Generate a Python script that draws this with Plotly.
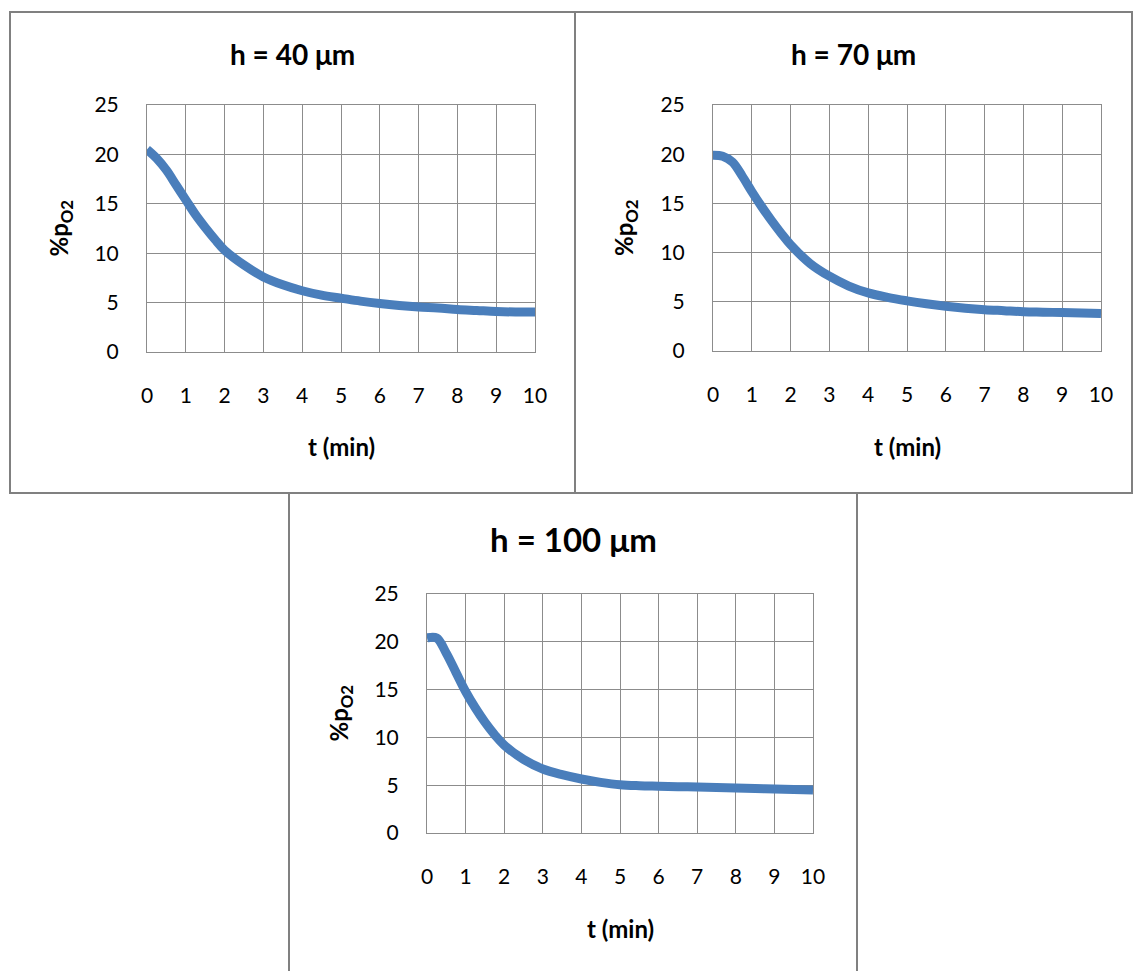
import plotly.graph_objects as go

FW, FH = 1133, 971

t_min = [0, 0.25, 0.5, 0.75, 1, 1.25, 1.5, 1.75, 2, 2.5, 3, 3.5, 4, 4.5, 5,
         5.5, 6, 6.5, 7, 7.5, 8, 8.5, 9, 9.5, 10]
po2_40 = [20.5, 19.6, 18.4, 16.9, 15.4, 13.9, 12.6, 11.4, 10.3, 8.8, 7.6, 6.8, 6.2, 5.75, 5.45,
          5.15, 4.9, 4.7, 4.55, 4.45, 4.3, 4.2, 4.1, 4.05, 4.05]
po2_70 = [19.9, 19.8, 19.2, 17.8, 16.2, 14.7, 13.3, 12.0, 10.8, 8.9, 7.6, 6.6, 5.9, 5.45, 5.1,
          4.8, 4.55, 4.35, 4.2, 4.1, 4.0, 3.95, 3.9, 3.85, 3.8]
po2_100 = [20.4, 20.4, 18.8, 16.8, 14.8, 13.1, 11.6, 10.3, 9.2, 7.7, 6.7, 6.1, 5.65, 5.3, 5.05,
           4.95, 4.9, 4.85, 4.8, 4.75, 4.7, 4.65, 4.6, 4.55, 4.5]

titles = ["h = 40 μm", "h = 70 μm", "h = 100 μm"]
series = [po2_40, po2_70, po2_100]
x_ticks = list(range(0, 11))
y_ticks = [0, 5, 10, 15, 20, 25]

# pixel layout (left, right, top, bottom) of plot areas and panels
plots = [(147, 535, 105, 352), (713, 1101, 105, 351), (427, 813, 594, 833)]
panels = [(10, 575, 12, 493), (575, 1132, 12, 493), (289, 857, 493, 990)]
title_sizes = [28, 28, 33]
title_y = [54, 54, 539]
xtitle_y = [447, 447, 928]
ytitle_x = [60, 626, 340]

FONT = "Lato, Calibri, Open Sans, sans-serif"
GRID = "#8c8c8c"
BLUE = "#4a7ebb"


def px(x):
    return x / FW


def py(y):
    return 1 - y / FH


fig = go.Figure()
layout = dict(width=FW, height=FH, margin=dict(l=0, r=0, t=0, b=0, autoexpand=False),
              paper_bgcolor="white", plot_bgcolor="white", showlegend=False,
              font=dict(family=FONT, color="black"))
shapes = []
annotations = []

for i in range(3):
    sfx = "" if i == 0 else str(i + 1)
    fig.add_trace(go.Scatter(x=t_min, y=series[i], mode="lines",
                             line=dict(color=BLUE, width=9, shape="spline", smoothing=1.0),
                             xaxis="x" + sfx, yaxis="y" + sfx, hoverinfo="skip"))
    l, r, t, b = plots[i]
    layout["xaxis" + sfx] = dict(domain=[px(l), px(r)], range=[0, 10], tickvals=x_ticks,
                                 showgrid=True, gridcolor=GRID, gridwidth=1,
                                 showline=True, linecolor=GRID, linewidth=1, mirror=True,
                                 zeroline=False, ticks="", ticklabelstandoff=25,
                                 tickfont=dict(size=21, family=FONT, color="black"),
                                 anchor="y" + sfx, fixedrange=True, automargin=False)
    layout["yaxis" + sfx] = dict(domain=[py(b), py(t)], range=[0, 25], tickvals=y_ticks,
                                 showgrid=True, gridcolor=GRID, gridwidth=1,
                                 showline=True, linecolor=GRID, linewidth=1, mirror=True,
                                 zeroline=False, ticks="", ticklabelstandoff=23,
                                 tickfont=dict(size=21, family=FONT, color="black"),
                                 anchor="x" + sfx, fixedrange=True, automargin=False)
    pl, pr, pt, pb = panels[i]
    shapes.append(dict(type="rect", xref="paper", yref="paper",
                       x0=px(pl), x1=px(pr), y0=py(pb), y1=py(pt),
                       line=dict(color="#808080", width=2), fillcolor="rgba(0,0,0,0)",
                       layer="below"))
    annotations.append(dict(text="<b>" + titles[i] + "</b>", xref="paper", yref="paper",
                            x=px((pl + pr) / 2), y=py(title_y[i]), xanchor="center", yanchor="middle",
                            showarrow=False, font=dict(size=title_sizes[i], family=FONT, color="black")))
    annotations.append(dict(text="<b>t (min)</b>", xref="paper", yref="paper",
                            x=px((l + r) / 2), y=py(xtitle_y[i]), xanchor="center", yanchor="middle",
                            showarrow=False, font=dict(size=24, family=FONT, color="black")))
    annotations.append(dict(text="<b>%p<sub>O2</sub></b>", xref="paper", yref="paper",
                            x=px(ytitle_x[i]), y=py((t + b) / 2), xanchor="center", yanchor="middle",
                            textangle=-90, showarrow=False,
                            font=dict(size=24, family=FONT, color="black")))

layout["shapes"] = shapes
layout["annotations"] = annotations
fig.update_layout(**layout)
fig.write_html("out.html")
